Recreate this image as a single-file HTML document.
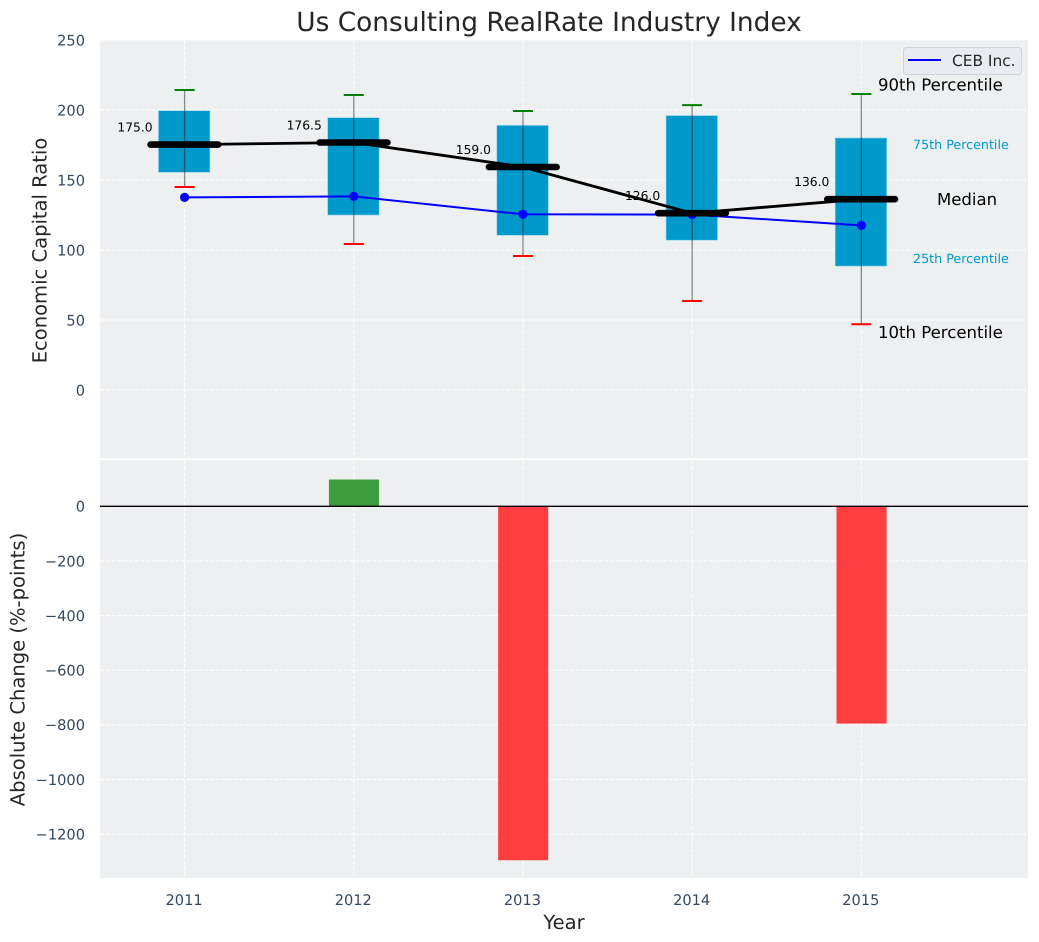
<!DOCTYPE html>
<html lang="en">
<head>
<meta charset="utf-8">
<title>Us Consulting RealRate Industry Index</title>
<style>
html,body{margin:0;padding:0;background:#fff;}
svg{display:block;font-family:"DejaVu Sans","Liberation Sans",sans-serif;text-rendering:geometricPrecision;}
</style>
</head>
<body>
<svg id="chart" width="1039" height="942" viewBox="0 0 1039 942" xmlns="http://www.w3.org/2000/svg">
  <rect x="100" y="40" width="928" height="419" fill="#ecf0f1"/>
  <rect x="100" y="460" width="928" height="418" fill="#ecf0f1"/>
  <g id="grid"></g>
  <g id="bars"></g>
  <g id="boxes"></g>
  <g id="whiskers"></g>
  <g id="company"></g>
  <g id="medians"></g>
  <g id="ticks"></g>
  <line id="zero" x1="100" x2="1028" stroke="#000" stroke-width="1.3"/>
  <text x="549" y="31" text-anchor="middle" font-size="26.4" fill="#262626">Us Consulting RealRate Industry Index</text>
  <text transform="translate(46.5,250.5) rotate(-90)" text-anchor="middle" font-size="19.55" fill="#262626">Economic Capital Ratio</text>
  <text transform="translate(24.5,669.5) rotate(-90)" text-anchor="middle" font-size="19.55" fill="#262626">Absolute Change (%-points)</text>
  <text x="564" y="929" text-anchor="middle" font-size="19.55" fill="#262626">Year</text>
  <g>
    <rect x="903.5" y="47.5" width="118" height="27" rx="3" fill="#e9ebf1" stroke="#cfd2d6"/>
    <line x1="908" x2="941" y1="60" y2="60" stroke="#0000ff" stroke-width="2"/>
    <text x="952" y="66" font-size="15.4" fill="#262626">CEB Inc.</text>
  </g>
  <text x="878" y="90.5" font-size="16.55" fill="#000">90th Percentile</text>
  <text x="913" y="149" font-size="12.7" fill="#0099cc">75th Percentile</text>
  <text x="937" y="205" font-size="16.55" fill="#000">Median</text>
  <text x="913" y="263" font-size="12.7" fill="#0099cc">25th Percentile</text>
  <text x="878" y="338" font-size="16.55" fill="#000">10th Percentile</text>
</svg>
<script>
const years = [2011, 2012, 2013, 2014, 2015];
const p90 = [214.3, 210.7, 199.3, 203.5, 211.4];
const p75 = [199.5, 194.5, 189, 196, 180];
const medians = [175, 176.5, 159, 126, 136];
const p25 = [155.5, 125, 110.5, 107, 88.5];
const p10 = [145, 104.3, 95.7, 63.6, 47];
const company = [137.6, 138.3, 125.5, 125.3, 117.6];
const changes = [0, 98, -1295, 0, -795];
const topTicks = [0, 50, 100, 150, 200, 250];
const bottomTicks = [0, -200, -400, -600, -800, -1000, -1200];

const NS = 'http://www.w3.org/2000/svg';
const X0 = 100, X1 = 1028;
const xScale = v => X0 + (v - 2010.5) / (2015.985 - 2010.5) * (X1 - X0);
const yTop = v => 40 + (250 - v) / 300 * 420;
const yBottom = v => 506.3 - v * 0.2733;

function make(parent, tag, props, text) {
  const el = document.createElementNS(NS, tag);
  for (const k in props) el.setAttribute(k, props[k]);
  if (text !== undefined) el.textContent = text;
  document.getElementById(parent).appendChild(el);
  return el;
}
function label(v) { return String(v).replace('-', '\u2212'); }

document.getElementById('zero').setAttribute('y1', yBottom(0));
document.getElementById('zero').setAttribute('y2', yBottom(0));

const gridStyle = {stroke: '#ffffff', 'stroke-width': 1, 'stroke-dasharray': '4 1.8', fill: 'none'};

/* separator between panels */
const sep = make('grid', 'line', {x1: X0, x2: X1, y1: 459.2, y2: 459.2, stroke: '#ffffff', 'stroke-width': 2});



topTicks.forEach(t => {
  const g = make('grid', 'line', Object.assign({x1: X0, x2: X1, y1: yTop(t), y2: yTop(t)}, gridStyle));
  
  
  const l = make('ticks', 'text', {x: 85, y: yTop(t) + 5.3, 'text-anchor': 'end', 'font-size': 14.6, fill: '#34495e'}, label(t));
  
  
});
bottomTicks.forEach(t => {
  if (t !== 0) {
    const g = make('grid', 'line', Object.assign({x1: X0, x2: X1, y1: yBottom(t), y2: yBottom(t)}, gridStyle));
    
    
  }
  const l = make('ticks', 'text', {x: 85, y: yBottom(t) + 5.3, 'text-anchor': 'end', 'font-size': 14.6, fill: '#34495e'}, label(t));
  
  
});

const barHalf = 0.148, boxHalf = 0.152, medianHalf = 0.2, capPx = 10;

years.forEach((yr, i) => {
  const x = xScale(yr);
  const g1 = make('grid', 'line', Object.assign({x1: x, x2: x, y1: 40, y2: 458}, gridStyle));
  
  
  const g2 = make('grid', 'line', Object.assign({x1: x, x2: x, y1: 460.5, y2: 878}, gridStyle));
  
  

  const tl = make('ticks', 'text', {x: x - 0.5, y: 905, 'text-anchor': 'middle', 'font-size': 14.6, fill: '#34495e'}, yr);
  
  

  /* change bars */
  if (changes[i] !== 0) {
    const y0 = yBottom(0), yv = yBottom(changes[i]);
    const bar = make('bars', 'rect', {
      x: xScale(yr - barHalf) + 0.2, width: xScale(yr + barHalf) - xScale(yr - barHalf),
      y: Math.min(y0, yv), height: Math.abs(yv - y0),
      fill: changes[i] > 0 ? '#3d9c3d' : '#ff3f3f'
    });
    
    
  }

  /* interquartile box */
  const box = make('boxes', 'rect', {
    x: xScale(yr - boxHalf) - 0.4, width: xScale(yr + boxHalf) - xScale(yr - boxHalf),
    y: yTop(p75[i]), height: yTop(p25[i]) - yTop(p75[i]),
    fill: '#0099cc', stroke: '#8fd0e6', 'stroke-width': 0.6
  });
  
  

  /* whisker and caps */
  const wh = make('whiskers', 'line', {x1: x, x2: x, y1: yTop(p90[i]), y2: yTop(p10[i]), stroke: '#000', 'stroke-opacity': 0.45, 'stroke-width': 1.3});
  
  
  const hi = make('whiskers', 'line', {x1: x - capPx, x2: x + capPx, y1: yTop(p90[i]), y2: yTop(p90[i]), stroke: '#008000', 'stroke-width': 2});
  
  
  const lo = make('whiskers', 'line', {x1: x - capPx, x2: x + capPx, y1: yTop(p10[i]), y2: yTop(p10[i]), stroke: '#ff0000', 'stroke-width': 2});
  
  

  /* median bar and value */
  const md = make('medians', 'line', {x1: xScale(yr - medianHalf) - 0.2, x2: xScale(yr + medianHalf) - 0.2, y1: yTop(medians[i]) - 0.4, y2: yTop(medians[i]) - 0.4, stroke: '#000', 'stroke-width': 6.6, 'stroke-linecap': 'round'});
  
  
  const mt = make('medians', 'text', {x: x - 32, y: yTop(medians[i]) - 13.6, 'text-anchor': 'end', 'font-size': 12.3, fill: '#000'}, medians[i].toFixed(1));
  
  
});

const medianLine = make('medians', 'polyline', {
  points: years.map((yr, i) => xScale(yr) + ',' + (yTop(medians[i]) - 0.4)).join(' '),
  fill: 'none', stroke: '#000', 'stroke-width': 2.8
});



const companyLine = make('company', 'polyline', {
  points: years.map((yr, i) => xScale(yr) + ',' + yTop(company[i])).join(' '),
  fill: 'none', stroke: '#0000ff', 'stroke-width': 2
});


years.forEach((yr, i) => {
  const pt = make('company', 'circle', {cx: xScale(yr), cy: yTop(company[i]), r: 4.6, fill: '#0000ff'});
  
  
});
</script>
</body>
</html>
